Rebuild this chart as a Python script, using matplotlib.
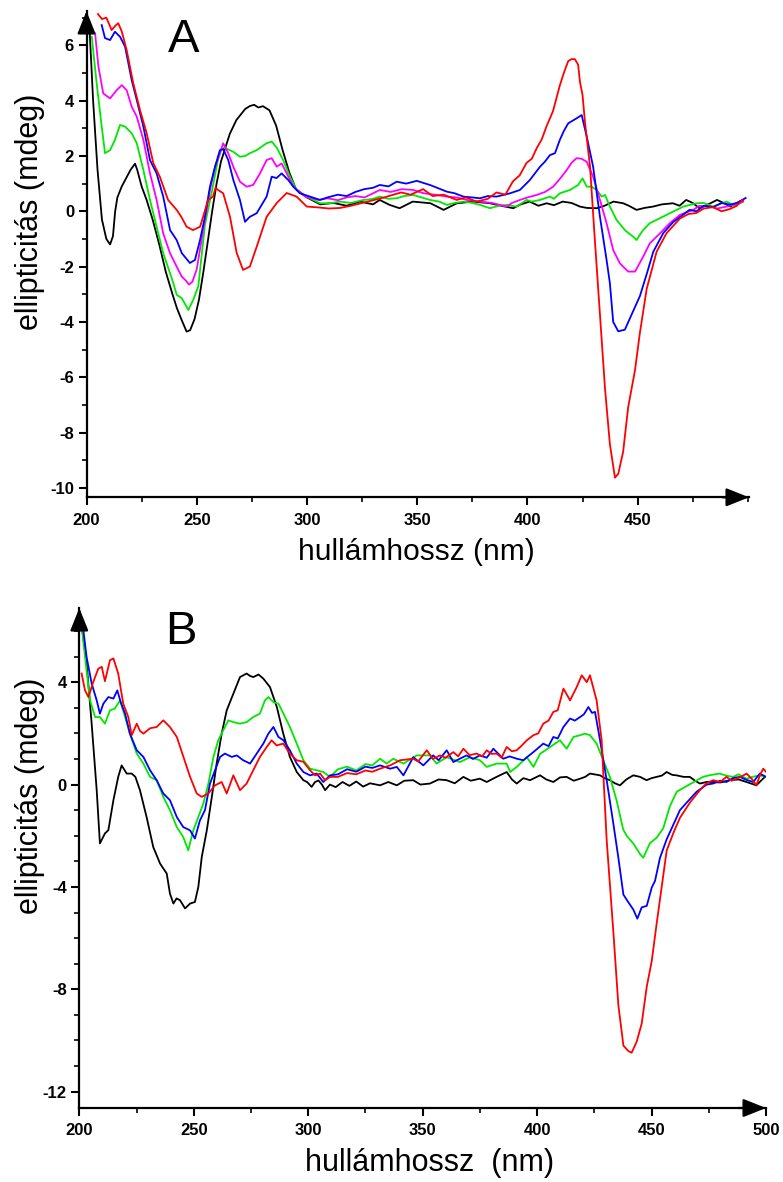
import numpy as np
import matplotlib
matplotlib.use("Agg")
import matplotlib.pyplot as plt
from matplotlib.ticker import MultipleLocator, FixedLocator

plt.rcParams['font.family'] = ['Liberation Sans', 'DejaVu Sans']
plt.rcParams['axes.unicode_minus'] = False

# ---- panel A: CD spectra (nm, mdeg) ----
a_black = [(201.5, 6.4), (203, 4.0), (205, 1.5), (207, -0.3), (209, -1.0), (210.7, -1.2), (212, -0.9),
           (213, 0.0), (214, 0.5), (216, 0.9), (218, 1.2), (220, 1.5), (222, 1.72), (223, 1.5), (225, 0.9),
           (227.3, 0.4), (230, -0.3), (233, -1.2), (236, -2.2), (239, -3.0), (241, -3.5), (243, -3.9),
           (245.4, -4.35), (247, -4.3), (249, -3.9), (251, -3.2), (253, -2.2), (255, -1.1), (257, 0.0),
           (259, 1.0), (261, 1.8), (263, 2.3), (265, 2.8), (268, 3.3), (270, 3.5), (272, 3.7), (274, 3.8),
           (276, 3.85), (278, 3.75), (280, 3.8), (283, 3.65), (286, 3.1), (289, 2.2), (292, 1.4), (295, 0.8),
           (300, 0.5), (306, 0.25), (312, 0.3), (318, 0.2), (324, 0.35), (330, 0.25), (333, 0.41),
           (337.5, 0.23), (342, 0.11), (348, 0.35), (356, 0.29), (362, 0.05), (368, 0.29), (375.5, 0.35),
           (383, 0.29), (388, 0.2), (393.6, 0.11), (397, 0.25), (401, 0.35), (405, 0.2), (408.7, 0.29),
           (412, 0.22), (416, 0.35), (420, 0.3), (423.8, 0.17), (427, 0.12), (431.4, 0.11), (435, 0.2),
           (439, 0.35), (443.4, 0.29), (446, 0.2), (449.5, 0.05), (453, 0.12), (457, 0.17), (461, 0.25),
           (466, 0.29), (469, 0.2), (472, 0.41), (475, 0.3), (478, 0.11), (482, 0.25), (486, 0.41),
           (489, 0.3), (492, 0.17), (495, 0.3), (497.8, 0.41)]

a_green = [(202.4, 6.31), (204.6, 4.63), (206.9, 3.06), (208.4, 2.1), (210.7, 2.21), (212.9, 2.58),
           (215.2, 3.12), (217.5, 3.06), (220.5, 2.82), (222.8, 2.46), (225.8, 1.49), (228.8, 0.41),
           (231.8, -0.56), (234.8, -1.52), (237.9, -2.24), (239.4, -2.6), (240.9, -3.02), (243.2, -3.14),
           (246.2, -3.57), (248.4, -3.2), (250.7, -2.72), (253.7, -0.5), (257, 0.77), (259.6, 1.85),
           (261, 2.2), (262.5, 2.3), (266.6, 2.15), (269.6, 1.97), (272, 2.0), (274.1, 2.1), (277.2, 2.21),
           (281.7, 2.46), (284, 2.52), (286.3, 2.3), (289.2, 1.85), (292.3, 1.25), (295.3, 0.77),
           (299.9, 0.53), (305.9, 0.29), (310.4, 0.29), (315, 0.35), (320, 0.3), (325, 0.4), (330, 0.45),
           (333, 0.53), (337, 0.45), (340.7, 0.47), (344, 0.55), (348.2, 0.59), (352, 0.5), (355.8, 0.41),
           (360, 0.35), (363.4, 0.23), (367, 0.3), (371, 0.35), (375, 0.3), (378.5, 0.23), (383, 0.11),
           (387, 0.2), (390.6, 0.23), (395.1, 0.17), (399.6, 0.41), (402, 0.35), (405.7, 0.41),
           (410.2, 0.53), (412, 0.45), (414.7, 0.65), (419.3, 0.77), (423, 0.95), (425, 1.19),
           (426.9, 0.89), (429.1, 0.89), (431.4, 0.77), (433.7, 0.53), (435.2, 0.59), (437.4, 0.17),
           (440.4, -0.31), (444.2, -0.68), (446, -0.8), (448, -0.92), (449.5, -1.04), (451, -0.85),
           (452.5, -0.68), (455.5, -0.43), (460.1, -0.25), (464.6, -0.07), (470.7, 0.17), (476.7, 0.29),
           (480, 0.3), (484.2, 0.17), (487, 0.25), (490.3, 0.35), (494, 0.2), (497.8, 0.35)]

a_magenta = [(203.9, 6.43), (205.4, 5.23), (207.6, 4.26), (210.7, 4.08), (213.7, 4.38), (216, 4.56),
             (218.2, 4.38), (220.5, 3.78), (222.8, 3.42), (225.8, 2.58), (228.8, 1.37), (231.8, 0.41),
             (234.8, -0.8), (237.9, -1.52), (240.9, -2.0), (243.2, -2.36), (245, -2.5), (246.5, -2.65),
             (248, -2.55), (250, -2.1), (252.9, -0.68), (256, 0.77), (258.3, 1.6), (260.5, 2.1),
             (262, 2.46), (264.3, 2.1), (266.6, 1.61), (269.6, 1.07), (272.6, 0.89), (275.6, 0.95),
             (278.7, 1.37), (281.7, 1.85), (284, 1.92), (286.3, 1.61), (288.5, 1.73), (290.8, 1.37),
             (293.8, 0.89), (299.3, 0.53), (305.3, 0.41), (309.3, 0.47), (314, 0.4), (318, 0.5),
             (322, 0.55), (326, 0.5), (330, 0.65), (333, 0.77), (338, 0.7), (343, 0.8), (348.2, 0.77),
             (353, 0.65), (358, 0.6), (363.4, 0.53), (368, 0.5), (373, 0.4), (378.5, 0.35), (384, 0.3),
             (390.6, 0.17), (393, 0.3), (396.6, 0.41), (400, 0.5), (404.2, 0.59), (408, 0.7),
             (411.7, 0.89), (415, 1.2), (417.8, 1.49), (420, 1.75), (422.3, 1.92), (424.5, 1.9),
             (426.9, 1.79), (429.8, 1.25), (432.9, 0.41), (435.9, -0.43), (438.9, -1.4), (441.9, -1.88),
             (445.7, -2.18), (448.8, -2.18), (452.5, -1.64), (455.5, -1.16), (460.1, -0.8), (464.6, -0.43),
             (469.2, -0.13), (475.2, 0.05), (478, 0.2), (482.7, 0.17), (486, 0.1), (490.3, 0.17),
             (494, 0.25), (497.8, 0.35)]

a_blue = [(206.9, 6.73), (208.4, 6.26), (210.7, 6.19), (212.9, 6.49), (215.2, 6.31), (217.5, 5.95),
          (220.5, 4.74), (222.8, 4.02), (225.8, 3.06), (228.8, 1.85), (231.8, 1.37), (234.8, 0.53),
          (237.9, -0.68), (240.9, -1.04), (243.2, -1.51), (246.9, -1.87), (249.2, -1.76), (251.5, -1.04),
          (253.7, -0.2), (256, 0.89), (258.3, 1.61), (260.5, 2.21), (262, 2.25), (264.3, 1.85),
          (266.6, 1.13), (269.6, 0.41), (271.9, -0.38), (274.1, -0.2), (277.2, -0.07), (281.7, 0.53),
          (284, 1.25), (286.2, 1.2), (288.5, 1.37), (291.5, 1.13), (293.8, 0.89), (296.8, 0.65),
          (301.4, 0.53), (305.9, 0.41), (309.3, 0.5), (314, 0.6), (318, 0.55), (322, 0.7), (326, 0.8),
          (330, 0.85), (333, 0.95), (337, 0.9), (340.7, 1.07), (345, 1.0), (349.8, 1.1), (355.8, 0.95),
          (359, 0.85), (363.4, 0.71), (367, 0.65), (371, 0.53), (375, 0.5), (378.5, 0.47), (382, 0.55),
          (386, 0.53), (392.1, 0.65), (396.6, 0.77), (401.1, 1.13), (405.7, 1.61), (408, 1.8),
          (410.2, 2.03), (412.5, 2.1), (414.7, 2.58), (416.5, 2.9), (418.5, 3.18), (422.3, 3.36),
          (424.6, 3.48), (426.9, 2.7), (429.8, 1.61), (432.9, -0.2), (435.9, -1.76), (437.4, -2.6),
          (438.9, -4.0), (441.2, -4.34), (444.2, -4.28), (448, -3.6), (451, -3.07), (454.1, -2.27),
          (457.1, -1.46), (461.6, -0.79), (466.1, -0.39), (470.7, -0.12), (473.5, 0.05), (476.7, 0.0),
          (480, 0.2), (484.2, 0.15), (488, 0.3), (491.8, 0.24), (495, 0.3), (499, 0.48)]

a_red = [(205.2, 7.13), (207, 6.95), (209, 7.0), (211.4, 6.55), (213, 6.7), (214.4, 6.8), (216, 6.5),
         (218.2, 5.83), (221.2, 4.63), (224.3, 3.65), (227.3, 2.82), (230.3, 1.74), (233.3, 1.24),
         (237, 0.41), (240.9, 0.05), (243, -0.2), (245.4, -0.56), (248.3, -0.68), (251.5, -0.56),
         (252.9, -0.2), (255.1, 0.41), (257.4, 0.53), (258.5, 0.85), (259.7, 0.77), (262, 0.65),
         (265.1, -0.2), (268.1, -1.5), (271, -2.12), (274.1, -2.0), (277.2, -1.28), (281.7, -0.2),
         (286.3, 0.3), (290.8, 0.66), (295.3, 0.53), (299.9, 0.17), (305, 0.14), (310, 0.1), (315, 0.12),
         (320, 0.2), (325, 0.3), (330, 0.4), (335, 0.5), (342.7, 0.68), (347, 0.6), (352.7, 0.8),
         (357, 0.55), (362, 0.6), (367.9, 0.41), (372, 0.5), (377, 0.35), (382, 0.45), (386, 0.68),
         (390, 0.6), (393.4, 1.08), (396.5, 1.3), (399.6, 1.75), (402, 1.9), (404.2, 2.28), (406.5, 2.6),
         (408.7, 3.08), (411.6, 3.62), (414.7, 4.55), (416.5, 5.0), (418.5, 5.43), (420, 5.5),
         (421.5, 5.5), (423, 5.3), (423.8, 4.69), (425, 4.2), (426.1, 3.22), (428.4, 1.61),
         (430.6, -1.06), (432.9, -3.74), (435.2, -6.42), (437.4, -8.42), (439.7, -9.63), (441.2, -9.49),
         (443.4, -8.7), (445.7, -7.08), (448.8, -5.74), (451, -4.4), (454.1, -2.8), (458.6, -1.46),
         (463.1, -0.79), (469.2, -0.26), (473, -0.1), (476.7, -0.06), (480, 0.1), (484.2, 0.15),
         (488, 0.0), (491.8, 0.08), (495, 0.2), (497.5, 0.41)]

# ---- panel B ----
b_black = [(201, 6.22), (203.2, 4.73), (205.4, 2.38), (207.6, -0.22), (209, -2.3), (211.2, -1.91),
           (212.7, -1.78), (214.9, -0.61), (217, 0.3), (218.5, 0.75), (220.7, 0.43), (222.9, 0.43),
           (224.5, 0.3), (226.5, -0.22), (229.4, -1.27), (232.3, -2.44), (235.3, -3.09), (238.2, -3.48),
           (239.6, -4.26), (241.1, -4.65), (242.5, -4.45), (244, -4.52), (246.2, -4.84), (248.4, -4.65),
           (250.5, -4.59), (252, -4.0), (253.5, -2.83), (255.7, -1.79), (257.9, -0.48), (260, 0.82),
           (262.2, 1.99), (264.4, 2.9), (267.3, 3.55), (270.2, 4.2), (273.1, 4.34), (274.5, 4.25),
           (276, 4.2), (278.3, 4.3), (280.4, 4.14), (283.3, 3.81), (286.3, 3.03), (289.1, 1.99),
           (292, 1.08), (295, 0.49), (297.9, 0.17), (299.5, 0.1), (301.5, -0.09), (303, 0.1),
           (304.5, 0.16), (306, 0.0), (307.4, -0.22), (309.5, 0.0), (312, -0.1), (315, 0.1), (318, -0.05),
           (321, 0.12), (324, -0.08), (327, 0.05), (331.4, -0.03), (335, 0.1), (338.7, -0.03), (342, 0.15),
           (345.9, 0.17), (349, 0.0), (353.2, 0.04), (357, 0.2), (360.5, 0.17), (364, 0.05), (367.8, 0.3),
           (371, 0.15), (375, 0.23), (378, 0.1), (382.3, 0.3), (386.7, 0.49), (389, 0.2), (391.1, 0.04),
           (394, 0.25), (396.9, 0.17), (401.3, 0.36), (404, 0.2), (407.1, 0.1), (410, 0.28), (412.9, 0.3),
           (416, 0.15), (418.8, 0.23), (421, 0.3), (423.1, 0.43), (427.5, 0.36), (429.5, 0.25),
           (431.8, 0.17), (434, 0.05), (436.2, -0.03), (439, 0.2), (442, 0.36), (445, 0.3), (447.8, 0.17),
           (450, 0.25), (452.2, 0.3), (454.5, 0.35), (456.6, 0.49), (459, 0.38), (460.9, 0.36), (464, 0.3),
           (466.7, 0.3), (469, 0.15), (471.1, 0.04), (474, 0.1), (476.9, 0.1), (480, 0.08), (484.2, 0.17),
           (488, 0.2), (491.5, 0.1), (495.8, -0.03), (499.5, 0.3)]

b_green = [(201, 6.22), (203, 4.59), (204.7, 3.29), (206.9, 2.64), (209, 2.64), (211.2, 2.38),
           (213.4, 2.9), (215.5, 2.97), (217.8, 3.29), (220, 2.64), (222.1, 1.99), (225.1, 1.21),
           (228, 0.82), (230.9, 0.3), (233.8, 0.17), (236.7, -0.48), (239.6, -1.0), (242.6, -1.66),
           (245.4, -2.05), (247.6, -2.57), (249.8, -1.79), (252, -1.27), (254.2, -0.74), (256.4, 0.04),
           (258.6, 1.08), (260.7, 1.73), (262.9, 2.12), (265.1, 2.51), (267.3, 2.44), (270.2, 2.38),
           (273.1, 2.44), (276, 2.64), (278.9, 2.77), (281.1, 3.29), (282.6, 3.42), (284.8, 3.22),
           (287, 3.16), (289.2, 2.77), (292, 2.25), (295, 1.6), (297.9, 0.95), (300.8, 0.62),
           (303.7, 0.56), (306.6, 0.49), (309.5, 0.3), (313, 0.6), (317, 0.7), (321, 0.55), (325, 0.8),
           (328, 0.75), (331.4, 1.01), (334.3, 0.82), (337.2, 1.01), (341.6, 0.82), (347.4, 1.14),
           (353.2, 1.14), (356.1, 0.82), (360.5, 1.07), (366.3, 0.88), (370.7, 1.07), (375, 0.95),
           (378, 0.69), (382.3, 0.82), (386.7, 0.82), (388.2, 0.49), (391.1, 0.69), (395.5, 1.07),
           (398.4, 0.69), (401.3, 1.2), (405.7, 1.47), (410, 1.73), (412.9, 1.4), (415.9, 1.86),
           (418.8, 1.93), (421, 1.99), (423.1, 1.93), (426, 1.6), (428.9, 0.95), (431.8, 0.3),
           (434.7, -0.61), (437.6, -1.75), (439.1, -2.0), (442, -2.3), (445, -2.72), (446.4, -2.86),
           (449.3, -2.29), (452.2, -2.08), (455.1, -1.71), (458, -0.85), (461, -0.28), (465.3, -0.06),
           (469.7, 0.16), (472.5, 0.3), (475.6, 0.37), (479.8, 0.43), (482.5, 0.35), (485.6, 0.3),
           (488, 0.4), (491.5, 0.23), (494, 0.3), (497.3, 0.36), (500, 0.3)]

b_blue = [(201.7, 6.09), (203.2, 4.98), (205.4, 3.95), (207.6, 3.29), (209, 2.77), (210.5, 3.16),
          (212.7, 3.42), (214.9, 3.36), (216.6, 3.68), (218.1, 3.22), (220, 2.77), (222.1, 1.99),
          (225.1, 1.34), (228, 1.08), (230.9, 0.56), (233.8, 0.17), (236.7, -0.35), (239.6, -0.61),
          (242.6, -1.27), (245.4, -1.66), (248.4, -1.79), (250.5, -2.11), (252.7, -1.4), (254.9, -1.0),
          (257.1, 0.04), (259.3, 0.56), (261.5, 1.08), (263.6, 1.21), (266.6, 1.08), (268.8, 1.14),
          (271.6, 0.95), (274.6, 0.82), (277.5, 1.21), (280.4, 1.6), (282.6, 1.99), (284.8, 2.25),
          (287, 1.86), (289.2, 1.73), (292, 1.34), (295, 0.82), (297.9, 0.49), (300.8, 0.36),
          (303.7, 0.43), (306.6, 0.1), (309.5, 0.36), (313, 0.4), (317, 0.6), (321, 0.5), (325, 0.7),
          (328, 0.65), (331.4, 0.75), (335.8, 0.62), (338.7, 0.69), (341.6, 0.36), (345.9, 1.07),
          (350.3, 0.75), (354.6, 1.14), (357, 0.95), (360.5, 1.34), (363.4, 0.88), (366, 1.0),
          (369.2, 1.14), (372, 1.0), (375, 1.14), (378, 1.05), (380.9, 1.4), (385.2, 1.01), (388, 1.1),
          (391.1, 1.01), (394, 0.95), (396, 1.1), (398.4, 1.27), (402.7, 1.6), (405, 1.5), (407.1, 1.86),
          (409, 1.8), (411.5, 2.25), (414.4, 2.58), (416.5, 2.5), (418.8, 2.64), (420.5, 2.75),
          (422.4, 3.03), (424, 2.8), (425.3, 2.84), (427.5, 1.73), (430.4, 0.17), (433.3, -1.52),
          (435.5, -2.86), (437.7, -4.3), (439.8, -4.59), (442, -4.88), (443.8, -5.24), (445.7, -4.8),
          (447.9, -4.74), (450.1, -4.02), (451.5, -3.77), (453.7, -2.86), (456.6, -2.14), (459.5, -1.57),
          (462.4, -1.0), (465.3, -0.71), (469.7, -0.28), (474.1, 0.0), (476.9, 0.04), (480, 0.15),
          (482.7, 0.1), (485.5, 0.25), (488.5, 0.3), (491, 0.2), (494.4, 0.1), (497.3, 0.43), (500, 0.3)]

b_red = [(201, 4.34), (202.5, 3.68), (204, 3.42), (206.1, 4.01), (208.3, 4.53), (209.8, 4.6), (211.2, 4.04),
         (213.4, 4.86), (214.9, 4.93), (217, 4.34), (219.2, 3.16), (221.4, 2.64), (222.9, 1.93),
         (225.1, 2.38), (226.5, 2.1), (228, 1.99), (230.9, 2.2), (233.8, 2.25), (236.7, 2.51),
         (239.6, 2.25), (242.6, 1.86), (245.5, 1.08), (248.4, 0.3), (251.3, -0.35), (253.5, -0.48),
         (256.4, -0.35), (259.3, -0.03), (262.2, 0.1), (264.4, -0.35), (267.3, 0.36), (270.2, -0.22),
         (273.1, 0.04), (276, 0.56), (278.9, 1.08), (281.9, 1.47), (284, 1.73), (286.2, 1.53),
         (289.1, 1.6), (292, 1.21), (295, 0.95), (297.9, 0.89), (300.8, 0.56), (303, 0.36), (305.2, 0.43),
         (307.4, 0.17), (309.5, 0.3), (313, 0.3), (317, 0.45), (321, 0.4), (325, 0.55), (328, 0.5),
         (331.4, 0.62), (335.8, 0.75), (340.1, 0.95), (345.9, 1.01), (348, 0.9), (351.8, 1.34),
         (354.5, 1.0), (357.6, 1.14), (360, 1.05), (363.4, 1.27), (365.5, 1.1), (367.8, 1.4),
         (370.5, 1.15), (373.6, 1.21), (376, 1.1), (378, 1.34), (380, 1.2), (382.3, 1.21), (384.5, 1.05),
         (386.7, 1.47), (389, 1.3), (391.1, 1.34), (393, 1.5), (395.5, 1.73), (398.4, 1.93), (400.5, 2.0),
         (402.7, 2.38), (405, 2.5), (407.1, 2.84), (409, 2.9), (411.5, 3.75), (414.4, 3.29),
         (417.3, 3.81), (419.5, 4.27), (421.7, 4.0), (423.1, 4.27), (426, 3.29), (428.2, 1.73),
         (430.4, -2.18), (433.3, -5.74), (435.5, -8.62), (437.7, -10.2), (439.8, -10.41), (441.3, -10.48),
         (443.5, -10.05), (445.7, -9.34), (447.9, -7.9), (450.1, -6.89), (452.2, -5.45), (454.4, -4.02),
         (456.6, -2.58), (459.5, -1.9), (462.4, -1.3), (466.8, -0.7), (471.1, -0.22), (474, 0.05),
         (476.9, 0.17), (480, 0.1), (482.7, 0.3), (485, 0.15), (487.1, 0.23), (489, 0.3), (491.5, 0.43),
         (494, 0.2), (495.8, -0.03), (497.5, 0.4), (498.8, 0.62), (500, 0.5)]

GREEN = '#00e800'
a_series = [(a_black, 'black'), (a_green, GREEN), (a_magenta, '#ff00ff'), (a_blue, '#0000ff'), (a_red, '#ff0000')]
b_series = [(b_black, 'black'), (b_green, GREEN), (b_blue, '#0000ff'), (b_red, '#ff0000')]

W, H = 783, 1182
fig = plt.figure(figsize=(W / 100, H / 100), dpi=100)


def px_axes(left, right, bottom, top):
    """Add axes from pixel edges (origin top-left)"""
    return fig.add_axes([left / W, 1 - bottom / H, (right - left) / W, (bottom - top) / H])


def style_axes(ax, xmajor, ymajor):
    for s in ['top', 'right']:
        ax.spines[s].set_visible(False)
    for s in ['left', 'bottom']:
        ax.spines[s].set_linewidth(1.6)
    ax.xaxis.set_major_locator(FixedLocator(xmajor))
    ax.xaxis.set_minor_locator(MultipleLocator(25))
    ax.yaxis.set_major_locator(FixedLocator(ymajor))
    ax.yaxis.set_minor_locator(MultipleLocator(1))
    ax.tick_params(which='major', direction='out', length=6, width=1.5, labelsize=12, pad=3)
    ax.tick_params(which='minor', direction='out', length=3.5, width=1.2)
    ax.tick_params(axis='x', which='major', pad=5)
    for lab in ax.get_xticklabels() + ax.get_yticklabels():
        lab.set_fontweight('bold')
    # arrow heads at the ends of both axes
    ax.annotate('', xy=(1, 0), xytext=(0.96, 0), xycoords='axes fraction',
                arrowprops=dict(arrowstyle='-|>,head_length=1.0,head_width=0.4', color='k',
                                lw=1.6, mutation_scale=14, shrinkA=0, shrinkB=0))
    ax.annotate('', xy=(0, 1), xytext=(0, 0.96), xycoords='axes fraction',
                arrowprops=dict(arrowstyle='-|>,head_length=1.0,head_width=0.4', color='k',
                                lw=1.6, mutation_scale=14, shrinkA=0, shrinkB=0))


# panel A
axA = px_axes(86.5, 749, 497.3, 11)
for data, col in a_series:
    arr = np.array(data)
    axA.plot(arr[:, 0], arr[:, 1], color=col, lw=1.3)
axA.set_xlim(200, 500.5)
axA.set_ylim(-10.34, 7.24)
style_axes(axA, [200, 250, 300, 350, 400, 450], np.arange(-10, 7, 2))

# panel B
axB = px_axes(79.3, 766, 1108, 608)
for data, col in b_series:
    arr = np.array(data)
    axB.plot(arr[:, 0], arr[:, 1], color=col, lw=1.3)
axB.set_xlim(200, 500)
axB.set_ylim(-12.64, 6.9)
style_axes(axB, [200, 250, 300, 350, 400, 450, 500], [-12, -8, -4, 0, 4])


def fig_text(x, y, s, **kw):
    fig.text(x / W, 1 - y / H, s, ha='center', va='center', **kw)


fig_text(416, 552, 'hullámhossz (nm)', fontsize=21.5)
fig_text(30, 212, 'ellipticitás (mdeg)', fontsize=22, rotation=90)
fig_text(430, 1163, 'hullámhossz  (nm)', fontsize=22)
fig_text(30, 796, 'ellipticitás (mdeg)', fontsize=22, rotation=90)
fig_text(184, 40, 'A', fontsize=34)
fig_text(181, 632, 'B', fontsize=34)

fig.savefig('out.png', dpi=100)
